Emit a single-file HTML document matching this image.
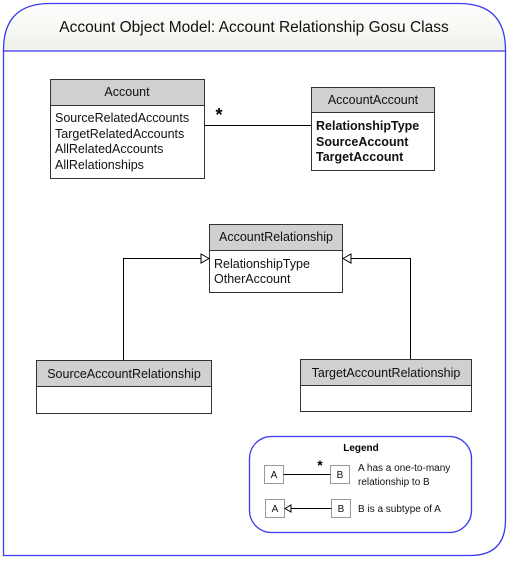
<!DOCTYPE html>
<html><head><meta charset="utf-8"><style>
body{margin:0;background:#fff;}
svg text{font-family:"Liberation Sans",Arial,sans-serif;}
</style></head><body>
<svg width="509" height="559" viewBox="0 0 509 559" xmlns="http://www.w3.org/2000/svg">
<defs><linearGradient id="hg" x1="0" y1="0" x2="0" y2="1"><stop offset="0" stop-color="#ffffff"/><stop offset="1" stop-color="#f0f0ea"/></linearGradient></defs>
<path d="M3.5,51 L3.5,50 Q3.5,3.5 50,3.5 L459,3.5 Q505.5,3.5 505.5,50 L505.5,51 Z" fill="url(#hg)"/>
<path d="M3.5,555.5 L3.5,50 Q3.5,3.5 50,3.5 L459,3.5 Q505.5,3.5 505.5,50 L505.5,520 Q505.5,555.5 470,555.5 Z" fill="none" stroke="#3a3af0" stroke-width="1.3"/>
<line x1="3.5" y1="51" x2="505.5" y2="51" stroke="#3a3af0" stroke-width="1.3"/>
<text x="254" y="32" font-size="15.5" text-anchor="middle" fill="#111">Account Object Model: Account Relationship Gosu Class</text>

<g stroke="#333" stroke-width="1">
<rect x="50.5" y="79.5" width="154" height="99" fill="#fff"/>
<rect x="50.5" y="79.5" width="154" height="26" fill="#d0d0d0"/>
<rect x="311.5" y="87.5" width="123" height="83" fill="#fff"/>
<rect x="311.5" y="87.5" width="123" height="25" fill="#d0d0d0"/>
<rect x="209.5" y="224.5" width="133" height="68" fill="#fff"/>
<rect x="209.5" y="224.5" width="133" height="26" fill="#d0d0d0"/>
<rect x="36.5" y="360.5" width="175" height="53" fill="#fff"/>
<rect x="36.5" y="360.5" width="175" height="26" fill="#d0d0d0"/>
<rect x="300.5" y="359.5" width="171" height="52" fill="#fff"/>
<rect x="300.5" y="359.5" width="171" height="26" fill="#d0d0d0"/>
</g>
<g stroke="#000" stroke-width="1" fill="none">
<line x1="204.5" y1="125.5" x2="311.5" y2="125.5"/>
<polyline points="123.5,360 123.5,258.5 201,258.5"/>
<polygon points="209,258.5 201,254 201,263" fill="#fff"/>
<polyline points="410.5,359 410.5,258.5 351,258.5"/>
<polygon points="343,258.5 351,254 351,263" fill="#fff"/>
</g>
<text x="219" y="121" font-size="18" font-weight="bold" text-anchor="middle">*</text>

<g font-size="12.5" fill="#111">
<text x="127" y="96" text-anchor="middle">Account</text>
<text x="55" y="122">SourceRelatedAccounts</text>
<text x="55" y="138">TargetRelatedAccounts</text>
<text x="55" y="153">AllRelatedAccounts</text>
<text x="55" y="169">AllRelationships</text>
<text x="373" y="104" text-anchor="middle">AccountAccount</text>
<text x="276" y="241" text-anchor="middle">AccountRelationship</text>
<text x="214" y="268">RelationshipType</text>
<text x="214" y="283">OtherAccount</text>
<text x="124" y="378" text-anchor="middle">SourceAccountRelationship</text>
<text x="386" y="377" text-anchor="middle">TargetAccountRelationship</text>
</g>
<g font-size="12.5" font-weight="bold" fill="#111">
<text x="316" y="130">RelationshipType</text>
<text x="316" y="146">SourceAccount</text>
<text x="316" y="161">TargetAccount</text>
</g>

<rect x="249.5" y="436.5" width="222" height="96" rx="22" fill="#fff" stroke="#3a3af0" stroke-width="1.3"/>
<text x="361" y="451" font-size="10" font-weight="bold" text-anchor="middle">Legend</text>
<g stroke="#999" fill="#fff">
<rect x="264.5" y="465.5" width="19" height="18"/>
<rect x="330.5" y="465.5" width="19" height="18"/>
<rect x="265.5" y="499.5" width="19" height="18"/>
<rect x="331.5" y="499.5" width="19" height="18"/>
</g>
<g stroke="#000" fill="#fff">
<line x1="283.5" y1="474.5" x2="330.5" y2="474.5"/>
<line x1="291" y1="508.5" x2="331.5" y2="508.5"/>
<polygon points="285,508.5 291,505 291,512"/>
</g>
<text x="320" y="470" font-size="14" font-weight="bold" text-anchor="middle">*</text>
<g font-size="10" fill="#111">
<text x="274" y="478" text-anchor="middle">A</text>
<text x="340" y="478" text-anchor="middle">B</text>
<text x="275" y="512" text-anchor="middle">A</text>
<text x="341" y="512" text-anchor="middle">B</text>
<text x="358" y="471">A has a one-to-many</text>
<text x="358" y="485">relationship to B</text>
<text x="358" y="512">B is a subtype of A</text>
</g>
</svg>
</body></html>
